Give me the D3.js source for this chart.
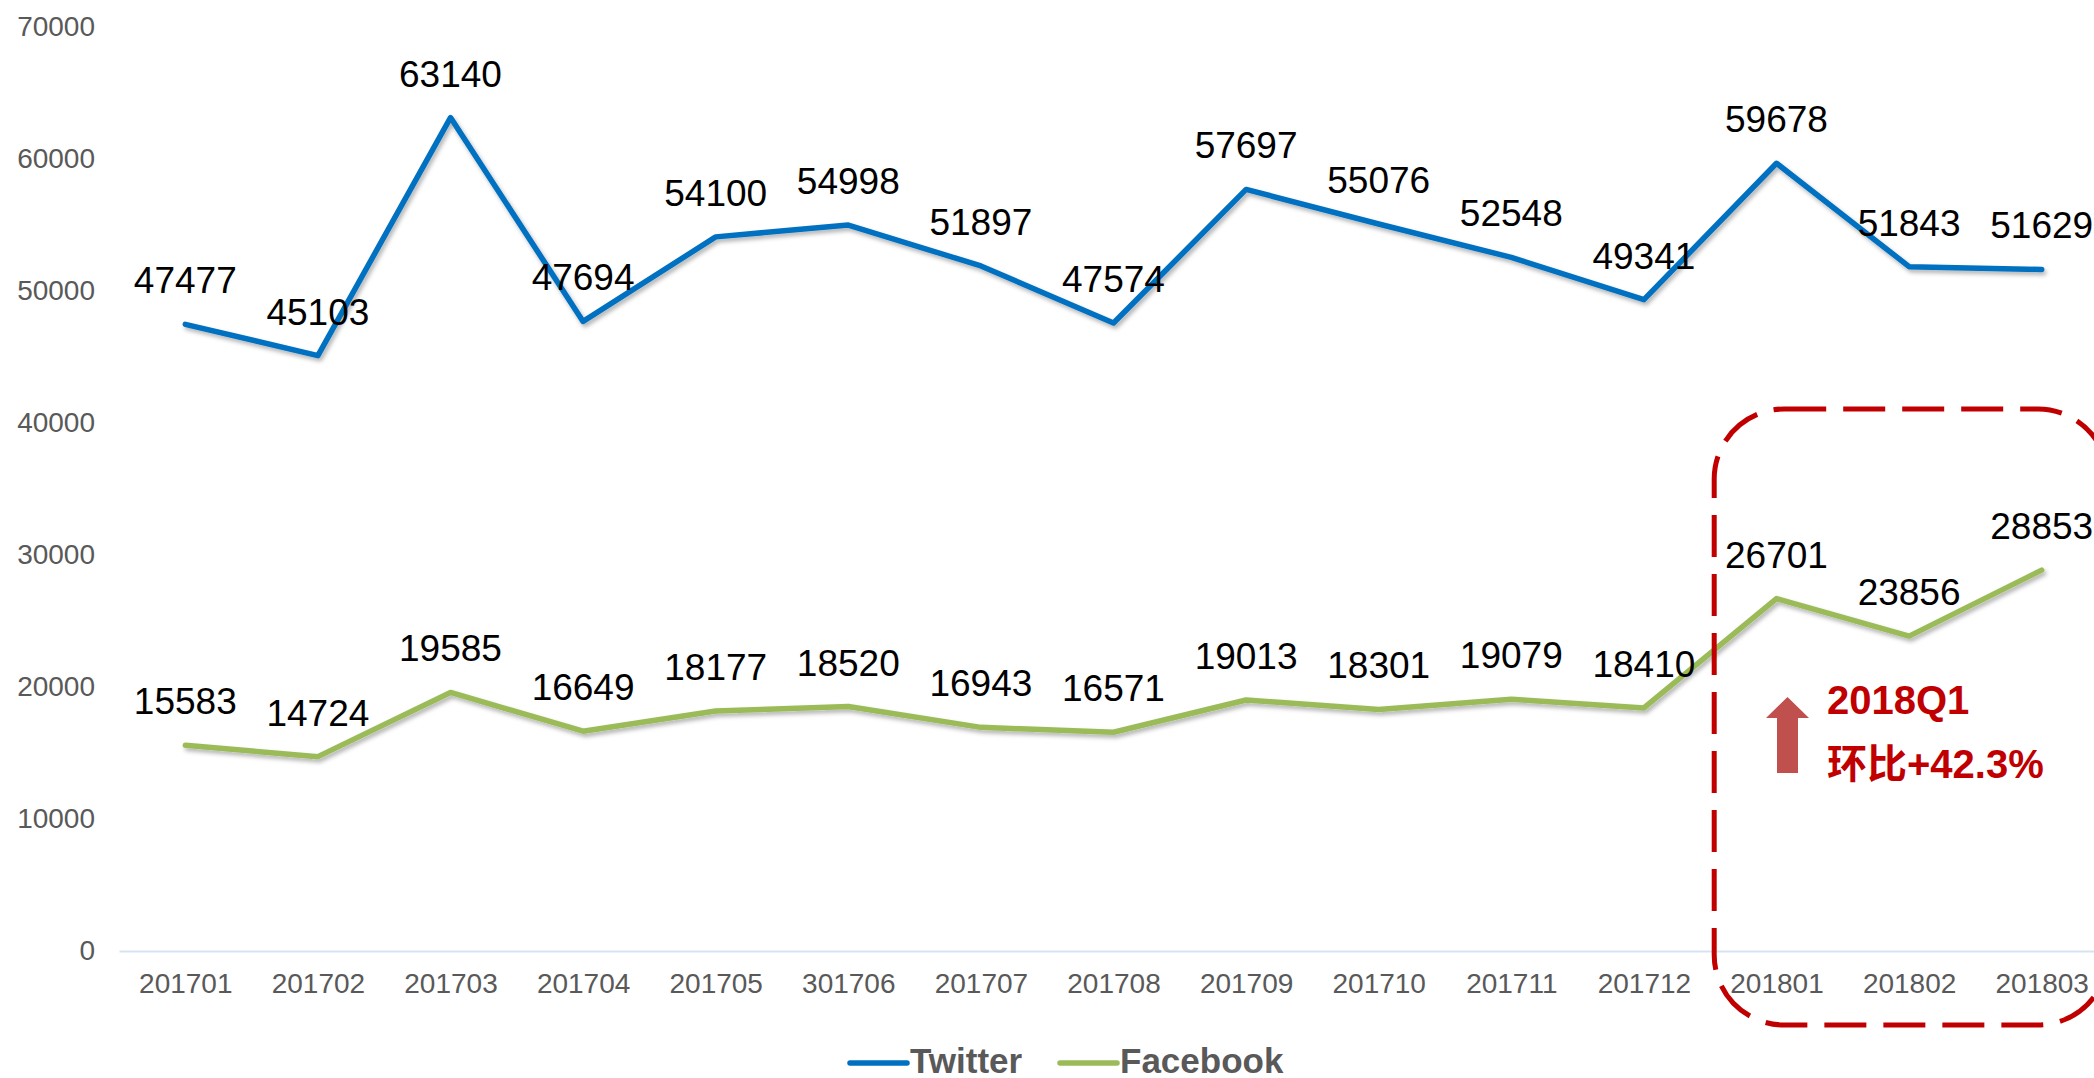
<!DOCTYPE html>
<html>
<head>
<meta charset="utf-8">
<script src="https://cdn.jsdelivr.net/npm/d3@7"></script>
<style>
  html, body { margin: 0; padding: 0; background: #fff; overflow: hidden; }
  svg { display: block; }
</style>
</head>
<body>
<div id="chart"></div>
<script>
// months on the x axis (the reference really reads "301706")
var months = ["201701", "201702", "201703", "201704", "201705", "301706", "201707", "201708",
              "201709", "201710", "201711", "201712", "201801", "201802", "201803"];
var twitter = [47477, 45103, 63140, 47694, 54100, 54998, 51897, 47574,
               57697, 55076, 52548, 49341, 59678, 51843, 51629];
var facebook = [15583, 14724, 19585, 16649, 18177, 18520, 16943, 16571,
                19013, 18301, 19079, 18410, 26701, 23856, 28853];
var yTicks = [0, 10000, 20000, 30000, 40000, 50000, 60000, 70000];
var seriesNames = ["Twitter", "Facebook"];
var seriesColors = ["#0070C0", "#9BBB59"];
var highlightMonths = ["201801", "201803"];
var noteLines = ["2018Q1", "环比+42.3%"];

var width = 2094, height = 1078;
var font = "'Liberation Sans', Arial, sans-serif";

var svg = d3.select("#chart").append("svg")
    .attr("width", width)
    .attr("height", height);

// soft shadow under the lines
var filter = svg.append("defs").append("filter")
    .attr("id", "shadow")
    .attr("x", "-5%").attr("y", "-20%")
    .attr("width", "110%").attr("height", "140%");
filter.append("feDropShadow")
    .attr("dx", 2).attr("dy", 3)
    .attr("stdDeviation", 2)
    .attr("flood-color", "#000")
    .attr("flood-opacity", 0.3);

var x = d3.scalePoint()
    .domain(months)
    .range([119, 2108])
    .padding(0.5);

var y = d3.scaleLinear()
    .domain([0, 70000])
    .range([951, 27]);

// y axis, labels only
var yAxis = svg.append("g")
    .attr("transform", "translate(119,0)")
    .call(d3.axisLeft(y).tickValues(yTicks).tickSize(0).tickPadding(24).tickFormat(d3.format("d")));
yAxis.select(".domain").remove();
yAxis.selectAll("text")
    .style("font-family", font)
    .style("font-size", "28px")
    .style("fill", "#595959");

// x axis
var xAxis = svg.append("g")
    .attr("transform", "translate(0,951)")
    .call(d3.axisBottom(x).tickSize(0).tickSizeOuter(0).tickPadding(22));
xAxis.select(".domain")
    .attr("stroke", "#D6E3F3")
    .attr("stroke-width", 2);
xAxis.selectAll("text")
    .style("font-family", font)
    .style("font-size", "28px")
    .style("fill", "#595959");

var line = d3.line()
    .x(function (d, i) { return x(months[i]); })
    .y(function (d) { return y(d); });

[twitter, facebook].forEach(function (values, k) {
    svg.append("path")
        .datum(values)
        .attr("d", line)
        .attr("fill", "none")
        .attr("stroke", seriesColors[k])
        .attr("stroke-width", 5.5)
        .attr("stroke-linejoin", "round")
        .attr("stroke-linecap", "round")
        .attr("filter", "url(#shadow)");

    svg.append("g").selectAll("text")
        .data(values)
        .enter()
        .append("text")
        .attr("x", function (d, i) { return x(months[i]); })
        .attr("y", function (d) { return y(d) - 31; })
        .attr("text-anchor", "middle")
        .style("font-family", font)
        .style("font-size", "37px")
        .style("fill", "#000")
        .text(function (d) { return d; });
});

// dashed highlight box round 2018Q1
var half = x.step() / 2;
svg.append("rect")
    .attr("x", x(highlightMonths[0]) - half + 4)
    .attr("y", 409)
    .attr("width", x(highlightMonths[1]) + half - (x(highlightMonths[0]) - half + 4))
    .attr("height", 616)
    .attr("rx", 70)
    .attr("ry", 70)
    .attr("fill", "none")
    .attr("stroke", "#C00000")
    .attr("stroke-width", 5)
    .attr("stroke-dasharray", "42 17");

// up arrow
var ax = 1787.5;
svg.append("path")
    .attr("d", "M" + ax + ",697 L" + (ax + 21.5) + ",718 L" + (ax + 10.5) + ",718 L" + (ax + 10.5) + ",773 L" +
        (ax - 10.5) + ",773 L" + (ax - 10.5) + ",718 L" + (ax - 21.5) + ",718 Z")
    .attr("fill", "#C0504D");

svg.append("g").selectAll("text")
    .data(noteLines)
    .enter()
    .append("text")
    .attr("x", 1827)
    .attr("y", function (d, i) { return 714 + i * 64; })
    .style("font-family", "'Liberation Sans', 'Noto Sans CJK SC', sans-serif")
    .style("font-size", "40px")
    .style("font-weight", "bold")
    .style("fill", "#C00000")
    .text(function (d) { return d; });

// legend
var legendX = [850, 1060];
var legend = svg.append("g").selectAll("g")
    .data(seriesNames)
    .enter()
    .append("g")
    .attr("transform", function (d, i) { return "translate(" + legendX[i] + ",1063)"; });
legend.append("line")
    .attr("x1", 0).attr("x2", 57)
    .attr("stroke", function (d, i) { return seriesColors[i]; })
    .attr("stroke-width", 5.5)
    .attr("stroke-linecap", "round");
legend.append("text")
    .attr("x", 60)
    .attr("y", 10)
    .style("font-family", font)
    .style("font-size", "35px")
    .style("font-weight", "bold")
    .style("fill", "#595959")
    .text(function (d) { return d; });
</script>
</body>
</html>
